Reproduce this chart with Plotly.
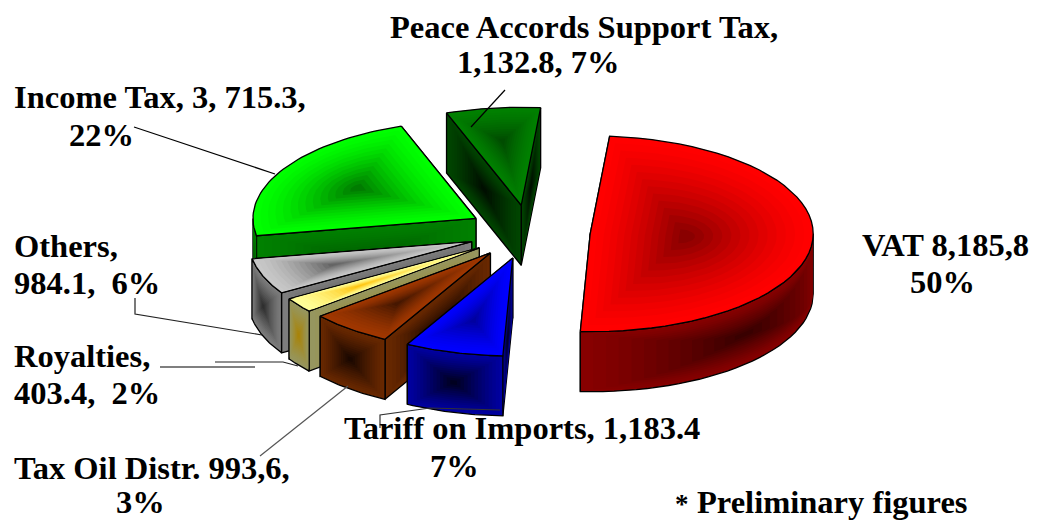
import math
import plotly.graph_objects as go

# ---- data ----
categories = ["VAT", "Tariff on Imports", "Tax Oil Distr.", "Royalties", "Others", "Income Tax", "Peace Accords Support Tax"]
values = [8185.8, 1183.4, 993.6, 403.4, 984.1, 3715.3, 1132.8]
label_lines = [
    ["VAT 8,185,8", "50%"],
    ["Tariff on Imports, 1,183.4", "7%"],
    ["Tax Oil Distr. 993,6,", "3%"],
    ["Royalties,", "403.4,\u00a0 2%"],
    ["Others,", "984.1,\u00a0 6%"],
    ["Income Tax, 3, 715.3,", "22%"],
    ["Peace Accords Support Tax,", "1,132.8, 7%"],
]
note_mark = "*"
note = "Preliminary figures"

# (edge, centre) colours per slice
top_colors = [((255,0,0),(125,0,0)), ((0,0,255),(0,0,150)), ((160,55,0),(60,20,0)), ((255,255,153),(255,190,0)),
              ((200,200,200),(90,90,90)), ((0,255,0),(0,110,0)), ((0,128,0),(0,70,0))]
wall_colors = [((135,0,0),(50,0,0)), ((0,0,160),(0,0,20)), ((105,40,0),(20,5,0)), ((150,150,95),(170,130,0)),
               ((125,125,125),(40,40,40)), ((0,128,0),(0,90,0)), ((0,70,0),(0,10,0))]
draw_order = [5, 6, 4, 3, 2, 1, 0]

# ---- projection of the tilted pie ----
CX, CY, RX, RY = 529, 232, 223, 98
DEPTH, PULL, START = 60, 0.275, 85
LAYERS, ARC = 14, 48
W, H = 1048, 520

fig = go.Figure()


def mix(c1, c2, t):
    return "rgb(%d,%d,%d)" % tuple(round(a + (b - a) * t) for a, b in zip(c1, c2))


def add_poly(pts, color, outline=False):
    xs = [p[0] for p in pts] + [pts[0][0]]
    ys = [p[1] for p in pts] + [pts[0][1]]
    fig.add_trace(go.Scatter(x=xs, y=ys, mode="lines", fill="toself", fillcolor=color,
                             line=dict(color="#000000" if outline else color, width=1.3 if outline else 0),
                             hoverinfo="skip", showlegend=False))


def centroid(pts):
    a = cx = cy = 0
    for i in range(len(pts)):
        x0, y0 = pts[i]
        x1, y1 = pts[(i + 1) % len(pts)]
        k = x0 * y1 - x1 * y0
        a += k
        cx += (x0 + x1) * k
        cy += (y0 + y1) * k
    return cx / (3 * a), cy / (3 * a)


def shaded_top(pts, cols):
    gx, gy = centroid(pts)
    for i in range(LAYERS):
        s = 1 - i / LAYERS
        add_poly([(gx + (x - gx) * s, gy + (y - gy) * s) for x, y in pts],
                 mix(cols[0], cols[1], (1 - s) ** 1.4), i == 0)


def shaded_wall(edge, cols):
    # edge: function u (0..1) -> top edge point; the wall hangs DEPTH below it
    n = 32
    for i in range(LAYERS):
        s = 1 - i / LAYERS
        lo, hi = 0.5 - s / 2, 0.5 + s / 2
        v0, v1 = DEPTH * lo, DEPTH * hi
        us = [lo + (hi - lo) * k / n for k in range(n + 1)]
        upper = [(edge(u)[0], edge(u)[1] + v0) for u in us]
        lower = [(edge(u)[0], edge(u)[1] + v1) for u in reversed(us)]
        add_poly(upper + lower, mix(cols[0], cols[1], (1 - s) ** 1.2), i == 0)


def rim(apex, deg):
    r = math.radians(deg)
    return apex[0] + RX * math.cos(r), apex[1] - RY * math.sin(r)


total = sum(values)
spans = []
a = START
for v in values:
    b = a - v / total * 360
    spans.append((a, b))
    a = b

for i in draw_order:
    hi, lo = spans[i]
    mid = math.radians((hi + lo) / 2)
    apex = (CX + PULL * RX * math.cos(mid), CY - PULL * RY * math.sin(mid))
    # radial walls, the one further back first
    for deg in sorted((hi, lo), key=lambda d: rim(apex, d)[1]):
        c = rim(apex, deg)
        shaded_wall(lambda u, c=c: (apex[0] + (c[0] - apex[0]) * u, apex[1] + (c[1] - apex[1]) * u), wall_colors[i])
    # outer wall, front half only
    f0, f1 = max(lo, -180), min(hi, 0)
    if f1 > f0:
        shaded_wall(lambda u, f0=f0, f1=f1: rim(apex, f0 + (f1 - f0) * u), wall_colors[i])
    # top face
    arc = [rim(apex, hi + (lo - hi) * k / ARC) for k in range(ARC + 1)]
    shaded_top(([apex] + arc)[::-1], top_colors[i])

# ---- leader lines ----
leaders = [
    ([505, 471], [90, 127], "#000000"),
    ([134, 275], [127, 174], "#000000"),
    ([135, 135, 262], [298, 314, 335], "#222222"),
    ([160, 255], [367, 367], "#000000"),
    ([215, 283, 298], [362, 362, 366], "#222222"),
    ([260, 348], [456, 386], "#555555"),
    ([380, 380, 430, 500], [428, 415, 408, 410], "#333333"),
]
for lx, ly, lc in leaders:
    fig.add_trace(go.Scatter(x=lx, y=ly, mode="lines", line=dict(color=lc, width=1.2),
                             hoverinfo="skip", showlegend=False))

# ---- labels ----
text_pos = {
    0: [(861, 245, "left"), (942.5, 282, "center")],
    1: [(343, 428, "left"), (454, 466, "center")],
    2: [(13, 468, "left"), (140.5, 502, "center")],
    3: [(13, 356, "left"), (13, 393, "left")],
    4: [(13, 246, "left"), (13, 283, "left")],
    5: [(13, 97, "left"), (101, 135, "center")],
    6: [(389, 27, "left"), (538.5, 62, "center")],
}
FONT = dict(family="Liberation Serif", size=32.5, color="#000000")
for i, lines in enumerate(label_lines):
    for txt, (x, y, anchor) in zip(lines, text_pos[i]):
        fig.add_annotation(x=x, y=y, text="<b>%s</b>" % txt, showarrow=False, xanchor=anchor, yanchor="middle",
                           xref="x", yref="y", font=FONT, borderpad=0)
fig.add_annotation(x=696, y=502, text="<b>%s</b>" % note, showarrow=False, xanchor="left", yanchor="middle",
                   xref="x", yref="y", font=FONT, borderpad=0)
fig.add_annotation(x=674, y=504, text="<b>%s</b>" % note_mark, showarrow=False, xanchor="left", yanchor="middle",
                   xref="x", yref="y", font=dict(family="Liberation Serif", size=27, color="#000000"), borderpad=0)

fig.update_layout(width=W, height=H, margin=dict(l=0, r=0, t=0, b=0), autosize=False,
                  paper_bgcolor="#ffffff", plot_bgcolor="#ffffff", showlegend=False,
                  xaxis=dict(range=[0, W], visible=False, fixedrange=True),
                  yaxis=dict(range=[H, 0], visible=False, fixedrange=True))

fig.write_html("out.html", config={"displayModeBar": False},
               post_script="document.body.style.margin='0';document.body.style.overflow='hidden';")
